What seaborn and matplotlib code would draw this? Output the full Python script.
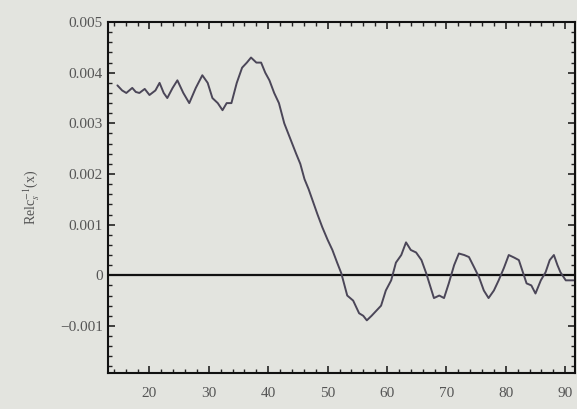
import numpy as np
import matplotlib
matplotlib.use('Agg')
import matplotlib.pyplot as plt
from matplotlib.ticker import MultipleLocator, FixedLocator
import seaborn as sns
import pandas as pd

# values
x_vals = [14.6, 15.4, 16.1, 17.1, 17.7, 18.3, 19.2, 20.0, 21.0, 21.7, 22.4, 23.0, 23.9, 24.7,
          25.7, 26.7, 27.8, 28.9, 29.8, 30.6, 31.5, 32.3, 33.0, 33.8, 34.7, 35.6, 36.4, 37.1,
          38.0, 38.8, 39.5, 40.2, 41.0, 41.8, 42.7, 43.7, 44.7, 45.4, 46.1, 46.8, 47.4, 48.3,
          49.1, 50.0, 50.8, 51.6, 52.3, 53.3, 54.3, 55.3, 56.0, 56.6, 57.4, 58.2, 59.0, 59.8,
          60.7, 61.5, 62.4, 63.2, 64.0, 64.9, 65.8, 66.6, 67.9, 68.8, 69.6, 70.4, 71.3, 72.1,
          73.0, 73.8, 74.7, 75.5, 76.3, 77.1, 78.0, 78.8, 79.7, 80.5, 81.4, 82.2, 83.5, 84.3,
          85.0, 85.9, 86.7, 87.4, 88.1, 88.7, 89.2, 90.1, 91.4]
y_vals = [0.00375, 0.00365, 0.0036, 0.0037, 0.00362, 0.0036, 0.00368, 0.00356, 0.00365, 0.0038,
          0.0036, 0.0035, 0.0037, 0.00385, 0.0036, 0.0034, 0.0037, 0.00395, 0.0038, 0.0035,
          0.0034, 0.00326, 0.0034, 0.0034, 0.0038, 0.0041, 0.0042, 0.0043, 0.0042, 0.0042,
          0.0040, 0.00385, 0.0036, 0.0034, 0.0030, 0.0027, 0.0024, 0.0022, 0.0019, 0.0017,
          0.0015, 0.0012, 0.00095, 0.0007, 0.0005, 0.00025, 0.00004, -0.0004, -0.0005, -0.00075,
          -0.0008, -0.00089, -0.0008, -0.0007, -0.0006, -0.0003, -0.0001, 0.00025, 0.0004, 0.00065,
          0.0005, 0.00045, 0.0003, 0.00004, -0.00045, -0.0004, -0.00045, -0.00016, 0.0002, 0.00043,
          0.0004, 0.00036, 0.00015, -0.00004, -0.0003, -0.00045, -0.0003, -0.0001, 0.00015, 0.0004,
          0.00035, 0.0003, -0.00016, -0.0002, -0.00036, -0.0001, 0.00006, 0.0003, 0.0004, 0.0002,
          0.00006, -0.0001, -0.0001]
x_ticks = [20, 30, 40, 50, 60, 70, 80, 90]
y_ticks = [-0.001, 0, 0.001, 0.002, 0.003, 0.004, 0.005]
y_labels = ['\u22120.001', '0', '0.001', '0.002', '0.003', '0.004', '0.005']

df = pd.DataFrame({'x': x_vals, 'y': y_vals})

sns.set_theme(style='ticks')
bg = '#e3e4df'
plt.rcParams['font.family'] = ['Liberation Serif', 'DejaVu Serif']
plt.rcParams['mathtext.fontset'] = 'stix'

fig = plt.figure(figsize=(5.77, 4.09), dpi=100, facecolor=bg)
ax = fig.add_axes([0.187, 0.088, 0.81, 0.858])
ax.set_facecolor(bg)

sns.lineplot(data=df, x='x', y='y', ax=ax, color='#4b4658', lw=1.4)
ax.axhline(0, color='#111111', lw=1.6, zorder=1)

ax.set_xlim(13, 91.7)
ax.set_ylim(-0.00193, 0.005)
ax.xaxis.set_major_locator(FixedLocator(x_ticks))
ax.xaxis.set_minor_locator(MultipleLocator(2))
ax.yaxis.set_major_locator(FixedLocator(y_ticks))
ax.yaxis.set_minor_locator(MultipleLocator(0.0002))
ax.set_yticklabels(y_labels)

ax.tick_params(which='both', direction='in', top=True, right=True,
               colors='#222222', labelcolor='#555555', labelsize=11)
ax.tick_params(axis='x', which='major', pad=10)
ax.tick_params(which='major', length=5, width=1.2)
ax.tick_params(which='minor', length=3, width=1.0)

for s in ax.spines.values():
    s.set_color('#111111')
    s.set_linewidth(1.5)

ax.set_xlabel('')
ax.set_ylabel('Relc$_s^{-1}$(x)', color='#555555', fontsize=10, labelpad=14)

fig.savefig('out.png', dpi=100, facecolor=bg)
